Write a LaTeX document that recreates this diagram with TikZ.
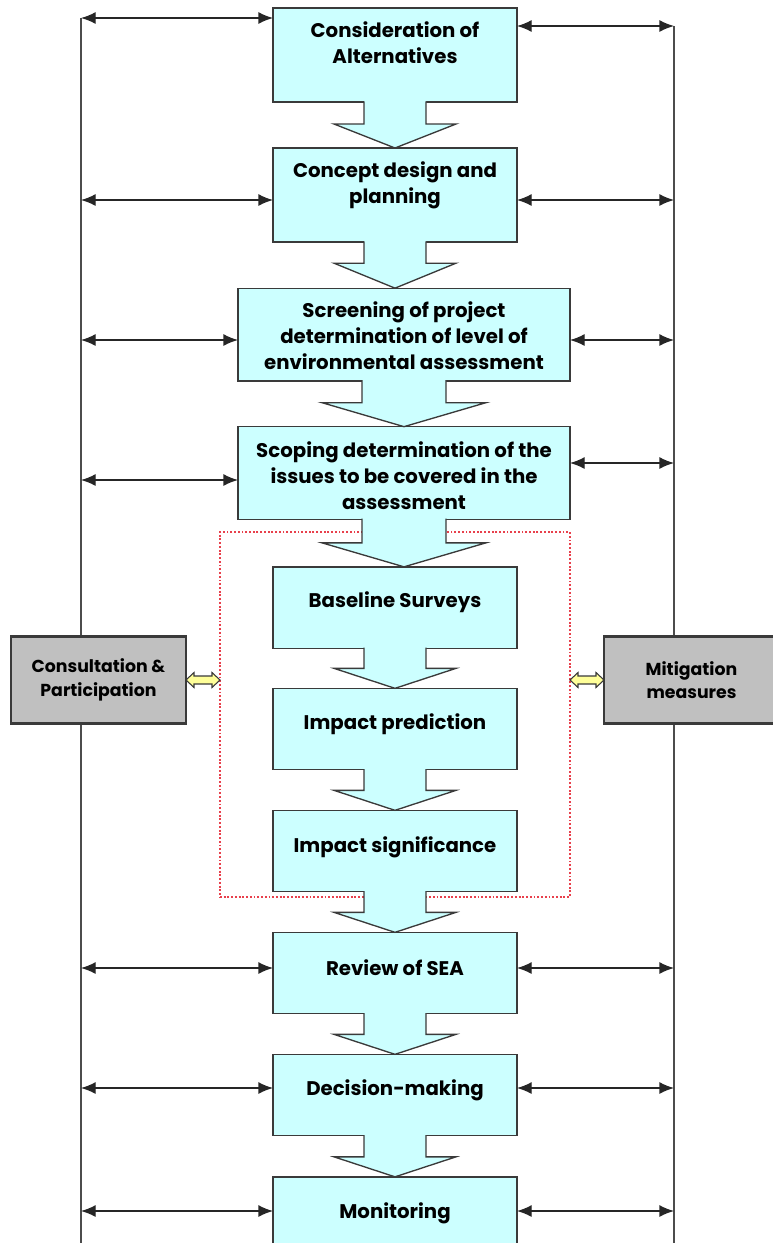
\documentclass[tikz,border=0pt]{standalone}
\usepackage{fontspec}
\setmainfont{Poppins}
\usetikzlibrary{positioning,calc,arrows.meta}

\definecolor{boxcyan}{HTML}{CCFFFF}
\definecolor{boxgray}{HTML}{C0C0C0}
\definecolor{linegray}{HTML}{3A3A3A}
\definecolor{zonered}{HTML}{E8404C}
\definecolor{paleyellow}{HTML}{FFFF99}

% block arrow between two boxes: from, to, half stem, half head, head length
\newcommand{\flowarrow}[5]{%
  \coordinate (ahead) at (#1.south |- #2.north);
  \fill[boxcyan] ($(#1.south)+(-#3,-1.5)$) |- ($(ahead)+(-#4,-#5)$) -- (ahead)
    -- ($(ahead)+(#4,-#5)$) -| ($(#1.south)+(#3,-1.5)$) -- cycle;
  \draw[outline] ($(#1.south)+(-#3,-0.6)$) |- ($(ahead)+(-#4,-#5)$) -- (ahead)
    -- ($(ahead)+(#4,-#5)$) -| ($(#1.south)+(#3,-0.6)$);
}
% yellow double arrow from left tip to right tip
\newcommand{\twinarrow}[2]{%
  \filldraw[twin] (#1) -- ++(8,-7.5) -- ++(0,3.5) -- ($(#2)+(-8,-4)$) -- ++(0,-3.5) -- (#2)
    -- ++(-8,7.5) -- ++(0,-3.5) -- ($(#1)+(8,4)$) -- ++(0,3.5) -- cycle;
}

\begin{document}
\begin{tikzpicture}[x=0.75pt, y=-0.75pt,
    box/.style={draw=linegray, fill=boxcyan, line width=1pt, outer sep=0pt, inner sep=0pt},
    tall/.style={box, minimum width=183pt, minimum height=70.5pt},
    wide/.style={box, minimum width=249pt, minimum height=69.5pt},
    short/.style={box, minimum width=183pt, minimum height=61pt},
    txt/.style={font=\bfseries\fontsize{14.8}{19.5}\selectfont, align=center, inner sep=0pt, anchor=base},
    sidebox/.style={draw=linegray, fill=boxgray, line width=1.8pt, outer sep=0pt,
      minimum width=131.25pt, minimum height=65.25pt,
      font=\bfseries\fontsize{13}{17.5}\selectfont, align=center},
    outline/.style={draw=linegray, line width=1pt, line join=miter},
    twin/.style={fill=paleyellow, draw=linegray, line width=0.8pt},
    zone/.style={draw=zonered, line width=1.8pt, dash pattern=on 1.4pt off 1.4pt,
      minimum width=262.5pt, minimum height=273.75pt, outer sep=0pt},
    rail/.style={draw=black!70, line width=1.1pt},
    link/.style={{Latex[length=11pt,width=9pt]}-{Latex[length=11pt,width=9pt]}, draw=black!85, line width=1pt}]

\useasboundingbox (0,0) rectangle (772,1243);

% side rails
\coordinate (railL) at (81,18);
\coordinate (railLend) at (81,1243);
\coordinate (railR) at (674,26);
\coordinate (railRend) at (674,1243);
\draw[rail] (railL) -- (railLend);
\draw[rail] (railR) -- (railRend);

% dotted assessment zone
\node[zone] (zone) at (395,714.5) {};

% main chain of boxes
\node[tall]  (b1)  at (395,55)     {};
\node[tall]  (b2)  at (395,195)    {};
\node[wide]  (b3)  at (404,334.5)  {};
\node[wide]  (b4)  at (404,473)    {};
\node[short] (b5)  at (395,607.5)  {};
\node[short] (b6)  at (395,729)    {};
\node[short] (b7)  at (395,851)    {};
\node[short] (b8)  at (395,973)    {};
\node[short] (b9)  at (395,1095)   {};
\node[short] (b10) at (395,1217.5) {};

% block arrows
\flowarrow{b1}{b2}{31}{61}{24}
\flowarrow{b2}{b3}{31}{61}{25}
\flowarrow{b3}{b4}{42}{82}{24}
\flowarrow{b4}{b5}{42}{82}{24}
\flowarrow{b5}{b6}{31}{61}{20}
\flowarrow{b6}{b7}{31}{61}{20}
\flowarrow{b7}{b8}{31}{61}{20}
\flowarrow{b8}{b9}{31}{61}{20}
\flowarrow{b9}{b10}{31}{61}{20}

% box texts (base = last line)
\node[txt, below=41.25pt of b1.north, anchor=base] (t1) {Consideration of\\Alternatives};
\node[txt, below=41.25pt of b2.north, anchor=base] (t2) {Concept design and\\planning};
\node[txt, below=60.75pt of b3.north, anchor=base] (t3) {Screening of project\\determination of level of\\environmental assessment};
\node[txt, below=62pt of b4.north, anchor=base] (t4) {Scoping determination of the\\issues to be covered in the\\assessment};
\node[txt, below=30.75pt of b5.north, anchor=base] (t5) {Baseline Surveys};
\node[txt, below=30.75pt of b6.north, anchor=base] (t6) {Impact prediction};
\node[txt, below=31.5pt of b7.north, anchor=base] (t7) {Impact significance};
\node[txt, below=32pt of b8.north, anchor=base] (t8) {Review of SEA};
\node[txt, below=31pt of b9.north, anchor=base] (t9) {Decision-making};
\node[txt, below=31pt of b10.north, anchor=base] (t10) {Monitoring};

% links to the rails
\foreach \b/\ly/\ry in {b1/18/26, b2/200/200, b3/340/340, b4/480/463,
                        b8/968/968, b9/1088/1088, b10/1211/1211} {
  \coordinate (l\b) at (81,\ly);
  \coordinate (r\b) at (674,\ry);
  \draw[link] (l\b) -- (l\b -| \b.west);
  \draw[link] (r\b -| \b.east) -- (r\b);
}

% side boxes
\node[sidebox] (cp) at (98.5,680)  {Consultation \&\\Participation};
\node[sidebox] (mm) at (691.5,680) {Mitigation\\measures};

\coordinate (cpz) at (cp.east -| zone.west);
\coordinate (mmz) at (mm.west -| zone.east);
\twinarrow{cp.east}{cpz}
\twinarrow{mmz}{mm.west}

\end{tikzpicture}
\end{document}
